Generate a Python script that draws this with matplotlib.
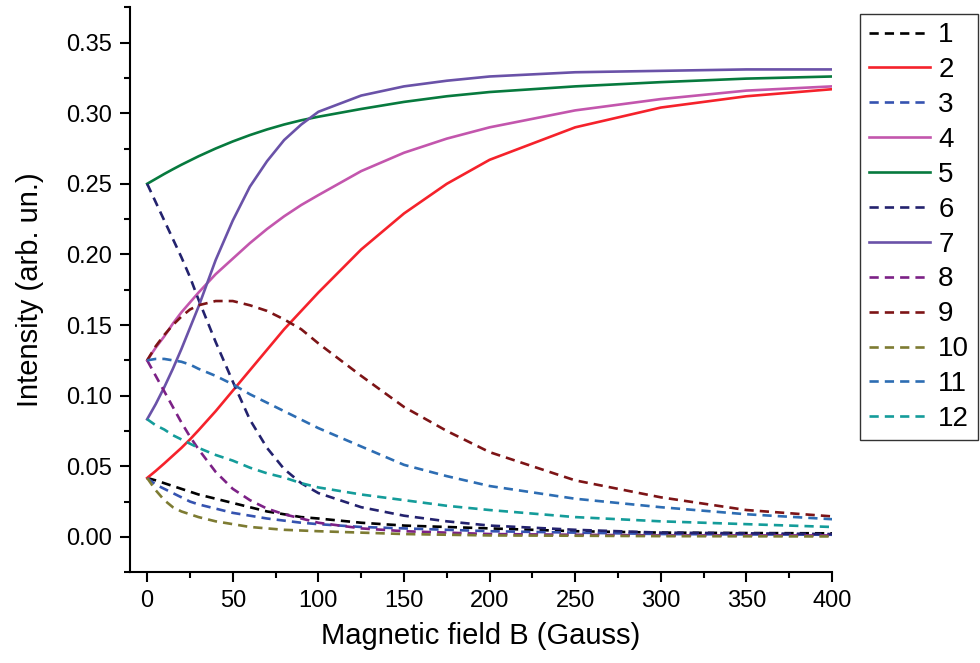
import matplotlib

matplotlib.use("Agg")
import matplotlib.pyplot as plt
from matplotlib.ticker import MultipleLocator, FormatStrFormatter

plt.rcParams["font.family"] = ["Liberation Sans", "DejaVu Sans"]

B = [0, 5, 10, 15, 20, 25, 30, 40, 50, 60, 70, 80, 90, 100,
     125, 150, 175, 200, 250, 300, 350, 400]

I1 = [0.0417, 0.040, 0.038, 0.036, 0.034, 0.032, 0.030, 0.027, 0.024, 0.021, 0.018,
      0.016, 0.014, 0.013, 0.010, 0.008, 0.007, 0.006, 0.004, 0.003, 0.0027, 0.0025]
I2 = [0.0417, 0.0467, 0.052, 0.0575, 0.063, 0.069, 0.0755, 0.089, 0.1035, 0.118, 0.1325,
      0.147, 0.160, 0.173, 0.2035, 0.229, 0.250, 0.267, 0.290, 0.304, 0.312, 0.317]
I3 = [0.0417, 0.037, 0.034, 0.031, 0.028, 0.025, 0.023, 0.020, 0.017, 0.015, 0.013,
      0.0115, 0.010, 0.009, 0.007, 0.006, 0.005, 0.004, 0.003, 0.002, 0.0017, 0.0015]
I4 = [0.125, 0.134, 0.142, 0.151, 0.159, 0.166, 0.173, 0.186, 0.197, 0.208, 0.218,
      0.227, 0.235, 0.242, 0.259, 0.272, 0.282, 0.290, 0.302, 0.310, 0.316, 0.319]
I5 = [0.250, 0.2535, 0.257, 0.2603, 0.2635, 0.2665, 0.2695, 0.275, 0.280, 0.2845, 0.2885,
      0.292, 0.295, 0.2975, 0.303, 0.308, 0.312, 0.315, 0.319, 0.322, 0.3245, 0.326]
I6 = [0.250, 0.237, 0.224, 0.211, 0.198, 0.184, 0.168, 0.138, 0.110, 0.083, 0.063,
      0.048, 0.038, 0.031, 0.021, 0.015, 0.011, 0.008, 0.005, 0.003, 0.0025, 0.002]
I7 = [0.0833, 0.094, 0.106, 0.119, 0.133, 0.148, 0.163, 0.196, 0.224, 0.248, 0.266,
      0.281, 0.292, 0.301, 0.3125, 0.319, 0.323, 0.326, 0.329, 0.330, 0.331, 0.331]
I8 = [0.125, 0.114, 0.103, 0.092, 0.081, 0.071, 0.062, 0.046, 0.034, 0.026, 0.020,
      0.016, 0.013, 0.010, 0.006, 0.004, 0.003, 0.002, 0.0015, 0.001, 0.001, 0.001]
I9 = [0.125, 0.135, 0.143, 0.150, 0.156, 0.161, 0.164, 0.167, 0.167, 0.164, 0.160,
      0.154, 0.147, 0.137, 0.114, 0.092, 0.075, 0.060, 0.040, 0.028, 0.019, 0.0145]
I10 = [0.0417, 0.033, 0.026, 0.021, 0.018, 0.016, 0.014, 0.011, 0.009, 0.007, 0.006,
       0.005, 0.0045, 0.004, 0.003, 0.002, 0.0015, 0.001, 0.0008, 0.0005, 0.0004, 0.0003]
I11 = [0.125, 0.126, 0.126, 0.125, 0.124, 0.122, 0.119, 0.114, 0.108, 0.101, 0.095,
       0.089, 0.083, 0.077, 0.064, 0.051, 0.043, 0.036, 0.027, 0.021, 0.016, 0.0125]
I12 = [0.0833, 0.079, 0.076, 0.072, 0.069, 0.066, 0.063, 0.058, 0.054, 0.049, 0.045,
       0.042, 0.038, 0.035, 0.030, 0.026, 0.022, 0.019, 0.014, 0.011, 0.009, 0.007]

series = [I1, I2, I3, I4, I5, I6, I7, I8, I9, I10, I11, I12]
labels = ["1", "2", "3", "4", "5", "6", "7", "8", "9", "10", "11", "12"]
colors = ["#000000", "#f5222b", "#3553b0", "#c356ad", "#077a3e", "#23226e",
          "#6a52a8", "#7c2186", "#7d1416", "#7d7b32", "#2d6db3", "#149c9a"]
styles = ["--", "-", "--", "-", "-", "--", "-", "--", "--", "--", "--", "--"]

fig = plt.figure(figsize=(9.8, 6.63), dpi=100)
ax = fig.add_axes([0.1327, 0.137, 0.7163, 0.852])

for y, lab, c, ls in zip(series, labels, colors, styles):
    kw = {"dashes": (3.5, 2.3)} if ls == "--" else {}
    ax.plot(B, y, ls=ls, color=c, lw=1.9, label=lab, **kw)

ax.set_xlim(-10, 400)
ax.set_ylim(-0.025, 0.375)
ax.xaxis.set_major_locator(MultipleLocator(50))
ax.xaxis.set_minor_locator(MultipleLocator(25))
ax.yaxis.set_major_locator(MultipleLocator(0.05))
ax.yaxis.set_minor_locator(MultipleLocator(0.025))
ax.yaxis.set_major_formatter(FormatStrFormatter("%.2f"))
ax.tick_params(which="major", direction="out", length=7, width=1.5, labelsize=17, pad=6)
ax.tick_params(which="minor", direction="out", length=4.5, width=1.5)
for s in ("top", "right"):
    ax.spines[s].set_visible(False)
for s in ("left", "bottom"):
    ax.spines[s].set_linewidth(1.5)

ax.set_xlabel("Magnetic field B (Gauss)", fontsize=21, labelpad=7)
ax.set_ylabel("Intensity (arb. un.)", fontsize=21, labelpad=16)

leg = fig.legend(loc="upper left", bbox_to_anchor=(0.878, 0.979), fontsize=20,
                 frameon=True, fancybox=False, handlelength=2.2, handletextpad=0.3,
                 labelspacing=0.32, borderpad=0.3, borderaxespad=0)
leg.get_frame().set_edgecolor("#000000")
leg.get_frame().set_linewidth(1.0)

fig.savefig("out.png", dpi=100)
